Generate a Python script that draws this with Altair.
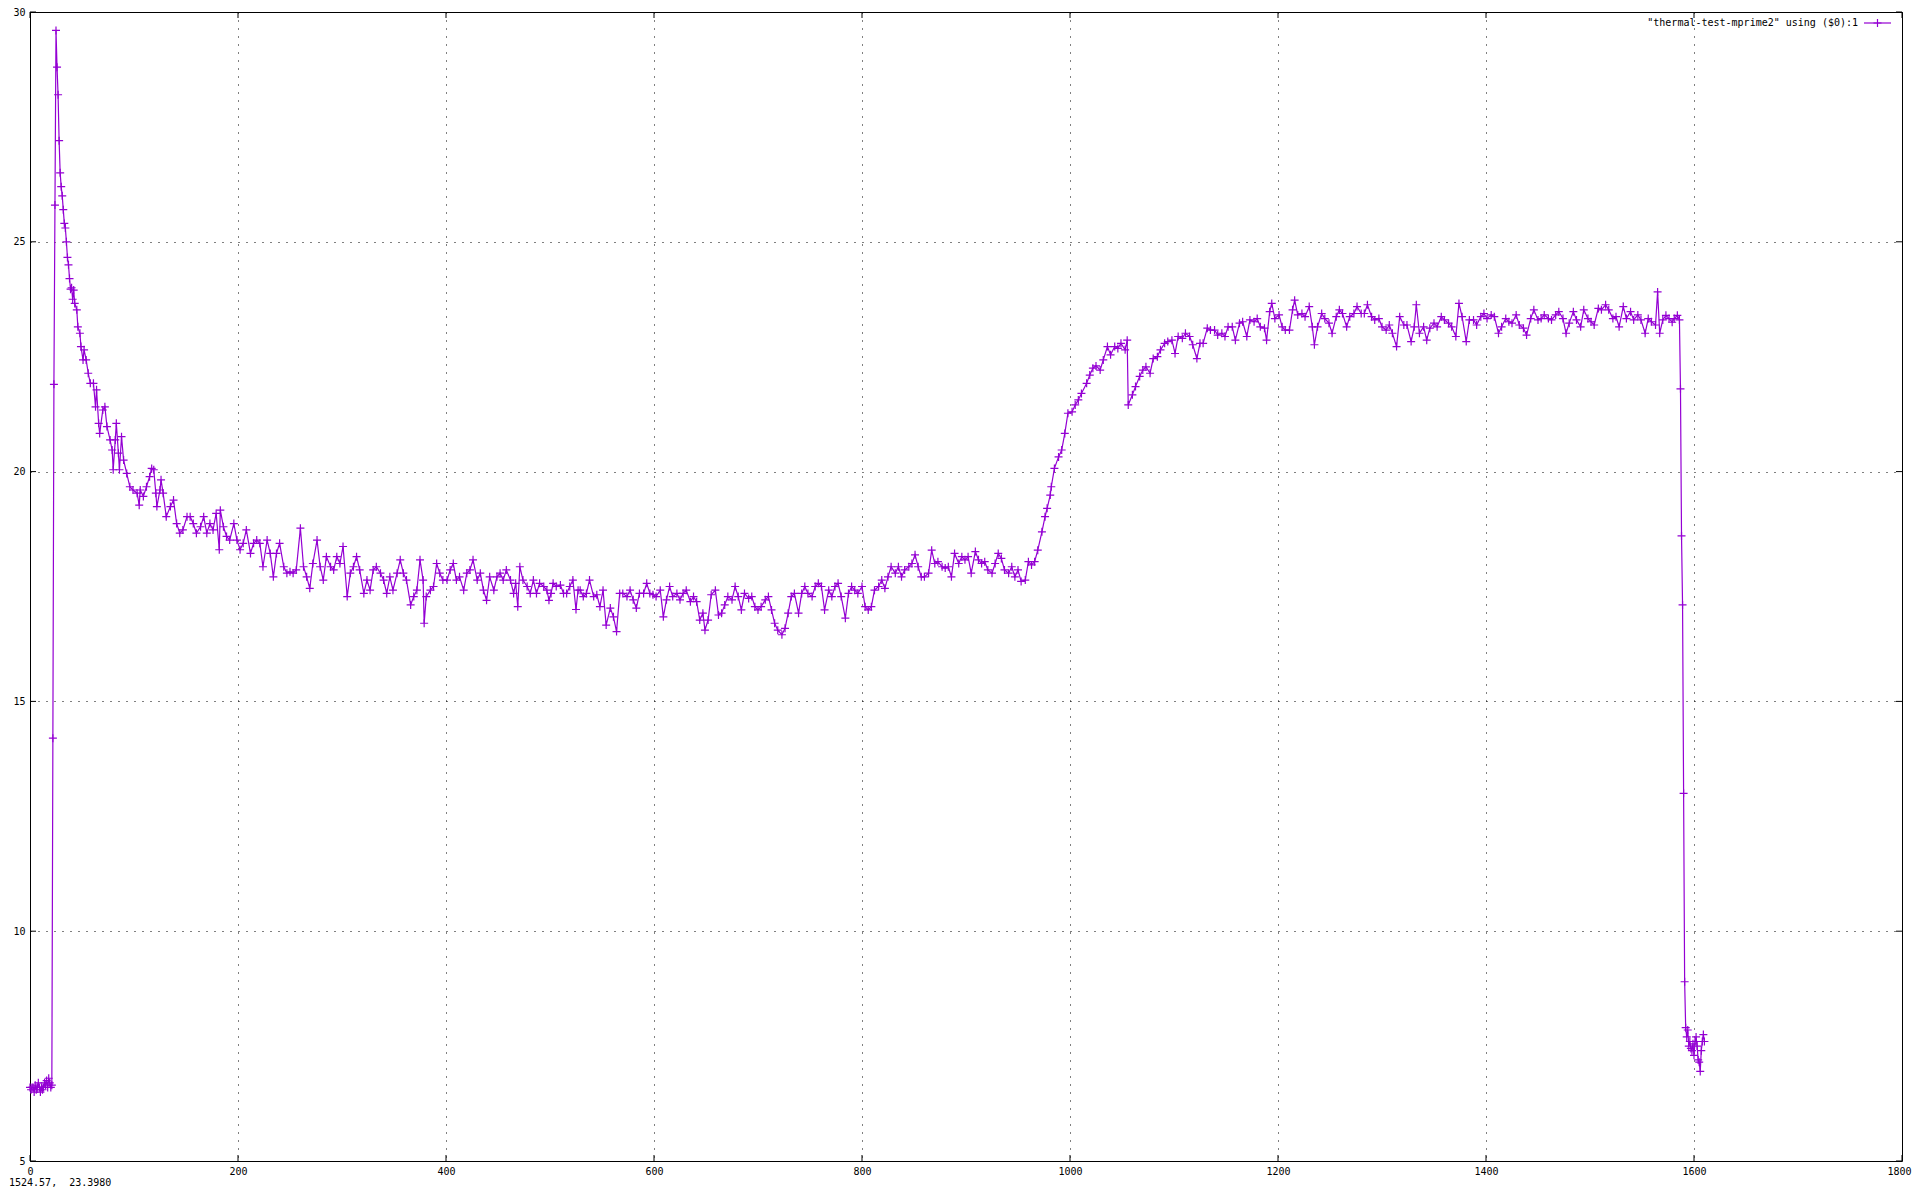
import altair as alt
import pandas as pd

# ---------------- data: (sample index, value) ----------------
warmup = [
    (0, 6.60), (1, 6.55), (2, 6.60), (3, 6.60), (4, 6.50), (5, 6.65), (6, 6.55), (7, 6.60),
    (8, 6.70), (9, 6.60), (10, 6.50), (11, 6.60), (12, 6.55), (13, 6.60), (14, 6.70),
    (15, 6.65), (16, 6.75), (17, 6.60), (18, 6.80), (19, 6.70), (20, 6.60), (21, 6.65),
    (22, 14.2), (23, 21.9), (24, 25.8), (25, 29.6), (26, 28.8), (27, 28.2), (28, 27.2),
    (29, 26.5), (30, 26.2), (31, 26.0), (32, 25.7), (33, 25.4), (34, 25.3), (35, 25.0),
    (36, 24.66), (37, 24.5), (38, 24.2), (39, 23.97), (40, 24.0), (41, 23.75), (42, 23.95),
    (43, 23.66),
]

decay = [
    (45, 23.52), (46, 23.15), (48, 23.01), (49, 22.72), (51, 22.43), (52, 22.65), (54, 22.43),
    (56, 22.14), (58, 21.92), (61, 21.92), (63, 21.41), (64, 21.78), (66, 21.05), (67, 20.83),
    (70, 21.34), (72, 21.41), (74, 20.98), (77, 20.69), (79, 20.47), (80, 20.04), (82, 20.69),
    (83, 21.05), (85, 20.40), (86, 20.04), (88, 20.76), (90, 20.25), (93, 19.96), (96, 19.67),
    (99, 19.60), (103, 19.53), (105, 19.27), (106, 19.60), (109, 19.46), (112, 19.67),
    (115, 19.89), (117, 20.07), (119, 20.04), (121, 19.53), (122, 19.24), (125, 19.60),
    (126, 19.82), (128, 19.53), (131, 19.02), (135, 19.24), (138, 19.38), (141, 18.87),
    (144, 18.66), (147, 18.73), (151, 19.02), (154, 19.02), (157, 18.87), (160, 18.66),
    (164, 18.80), (167, 19.02), (170, 18.66), (173, 18.87), (176, 18.73), (179, 19.09),
    (182, 18.30), (183, 19.16), (186, 18.80), (189, 18.59), (192, 18.51), (196, 18.87),
    (199, 18.51), (202, 18.30), (205, 18.44), (208, 18.73), (212, 18.22), (215, 18.44),
    (218, 18.51), (221, 18.44), (224, 17.93), (228, 18.51), (231, 18.22), (234, 17.71),
    (237, 18.22), (240, 18.44), (244, 17.93), (247, 17.79), (250, 17.82), (253, 17.79),
    (256, 17.86), (260, 18.77), (263, 17.93), (266, 17.71), (269, 17.46), (272, 18.00),
    (276, 18.51), (279, 17.93), (282, 17.64), (285, 18.15), (289, 17.93), (292, 17.86),
    (295, 18.15), (298, 18.00), (301, 18.37), (305, 17.28), (308, 17.79), (311, 17.93),
    (314, 18.15), (317, 17.86), (321, 17.35), (324, 17.64), (327, 17.42), (330, 17.86),
    (333, 17.93), (337, 17.79), (340, 17.64), (343, 17.35), (346, 17.71), (349, 17.42),
    (353, 17.79), (356, 18.08), (359, 17.79), (362, 17.64), (366, 17.10), (369, 17.28),
    (372, 17.42), (375, 18.08), (378, 17.64), (379, 16.70), (381, 17.28), (385, 17.42),
    (388, 17.50), (391, 18.00), (394, 17.79), (397, 17.64), (401, 17.64), (404, 17.86),
    (407, 18.00), (410, 17.64), (413, 17.71), (417, 17.42), (420, 17.79), (423, 17.86),
    (426, 18.08), (430, 17.64), (433, 17.79), (436, 17.42), (439, 17.20), (442, 17.71),
    (446, 17.42), (449, 17.71), (452, 17.79), (455, 17.64), (458, 17.86), (462, 17.64),
    (465, 17.35), (467, 17.57), (469, 17.06), (471, 17.93), (474, 17.64), (478, 17.50),
    (481, 17.35), (484, 17.64), (487, 17.35), (490, 17.57), (494, 17.50), (497, 17.42),
    (499, 17.20), (501, 17.35), (503, 17.57), (506, 17.50), (510, 17.53), (513, 17.35),
    (516, 17.35), (519, 17.50), (522, 17.64), (525, 17.00), (527, 17.42),
]

plateau_low = [
    (529, 17.42), (532, 17.28), (535, 17.35), (538, 17.64), (542, 17.28), (545, 17.32),
    (548, 17.06), (551, 17.42), (554, 16.66), (558, 17.03), (561, 16.84), (564, 16.52),
    (567, 17.35), (570, 17.35), (574, 17.28), (577, 17.42), (580, 17.21), (583, 17.03),
    (586, 17.35), (590, 17.35), (593, 17.57), (596, 17.35), (599, 17.32), (602, 17.28),
    (606, 17.42), (609, 16.84), (612, 17.21), (615, 17.50), (618, 17.28), (622, 17.35),
    (625, 17.21), (628, 17.35), (631, 17.42), (635, 17.17), (638, 17.28), (641, 17.17),
    (644, 16.77), (647, 16.92), (649, 16.55), (652, 16.77), (655, 17.32), (659, 17.42),
    (662, 16.88), (665, 16.92), (668, 17.10), (671, 17.28), (675, 17.21), (678, 17.50),
    (681, 17.28), (684, 16.99), (687, 17.35), (691, 17.24), (694, 17.28), (697, 17.06),
    (700, 16.99), (703, 17.06), (707, 17.21), (710, 17.28), (713, 16.99), (716, 16.70),
    (719, 16.55), (723, 16.45), (726, 16.59), (729, 16.92), (732, 17.28), (735, 17.35),
    (739, 16.92), (742, 17.35), (745, 17.50), (748, 17.35), (752, 17.28), (755, 17.50),
    (758, 17.57), (761, 17.50), (764, 16.99), (768, 17.42), (771, 17.28), (774, 17.50),
    (777, 17.57), (780, 17.28), (784, 16.81), (787, 17.35), (790, 17.50), (793, 17.42),
    (796, 17.35), (800, 17.50), (803, 17.06), (806, 16.99), (809, 17.06), (812, 17.42),
    (816, 17.50), (819, 17.64), (822, 17.46), (825, 17.71), (828, 17.93), (832, 17.79),
    (835, 17.93), (838, 17.71), (841, 17.86), (845, 17.93), (848, 18.00), (851, 18.19),
    (854, 17.93), (857, 17.71), (860, 17.71), (864, 17.79), (867, 18.29), (870, 18.00),
    (873, 18.04), (877, 17.93), (880, 17.90), (883, 17.93), (886, 17.71), (889, 18.22),
    (893, 18.00), (896, 18.15), (899, 18.08), (902, 18.15), (905, 17.79), (909, 18.26),
    (912, 18.08), (915, 18.00), (918, 18.04), (921, 17.86), (925, 17.79), (928, 18.00),
    (931, 18.22), (934, 18.11), (937, 17.86), (941, 17.79), (944, 17.93), (947, 17.71),
    (950, 17.86), (953, 17.61), (957, 17.64), (960, 18.04), (963, 17.97), (966, 18.04),
]

ramp = [
    (969, 18.29), (973, 18.69), (976, 19.02), (978, 19.20), (981, 19.49), (982, 19.67),
    (985, 20.07), (989, 20.32), (992, 20.47), (995, 20.83), (998, 21.27), (1002, 21.30),
    (1005, 21.45), (1008, 21.56), (1011, 21.70), (1016, 21.92), (1019, 22.10), (1022, 22.25),
    (1025, 22.30), (1029, 22.21), (1032, 22.43), (1036, 22.72), (1039, 22.54), (1043, 22.72),
    (1046, 22.68), (1049, 22.79), (1053, 22.65), (1055, 22.86), (1056, 21.45), (1060, 21.67),
    (1063, 21.85), (1067, 22.07), (1070, 22.21), (1073, 22.28), (1077, 22.14), (1080, 22.46),
    (1084, 22.50), (1087, 22.65), (1091, 22.79), (1094, 22.83), (1098, 22.86), (1101, 22.57),
    (1104, 22.94), (1108, 22.90), (1111, 23.01), (1115, 22.94), (1118, 22.76), (1122, 22.46),
    (1125, 22.79), (1128, 22.79), (1132, 23.12), (1135, 23.08), (1139, 23.08), (1142, 22.97),
    (1146, 23.01), (1149, 22.94), (1152, 23.15), (1156, 23.15), (1159, 22.86), (1163, 23.23),
    (1166, 23.26), (1170, 22.94), (1173, 23.30), (1177, 23.26), (1180, 23.33), (1183, 23.15),
    (1187, 23.12), (1189, 22.86),
]

plateau_high = [
    (1192, 23.48), (1194, 23.66), (1197, 23.33), (1201, 23.41), (1204, 23.15), (1207, 23.08),
    (1211, 23.08), (1214, 23.52), (1216, 23.73), (1219, 23.41), (1223, 23.44), (1226, 23.37),
    (1230, 23.59), (1233, 23.15), (1235, 22.76), (1238, 23.15), (1242, 23.44), (1245, 23.33),
    (1249, 23.23), (1252, 23.01), (1256, 23.37), (1259, 23.52), (1262, 23.44), (1266, 23.15),
    (1269, 23.37), (1273, 23.44), (1276, 23.59), (1280, 23.44), (1283, 23.44), (1286, 23.63),
    (1290, 23.37), (1293, 23.30), (1297, 23.33), (1300, 23.15), (1304, 23.08), (1307, 23.19),
    (1310, 23.01), (1314, 22.72), (1317, 23.37), (1321, 23.19), (1324, 23.19), (1328, 22.83),
    (1331, 23.15), (1333, 23.63), (1336, 23.01), (1340, 23.15), (1343, 22.86), (1346, 23.12),
    (1350, 23.23), (1353, 23.15), (1357, 23.37), (1360, 23.30), (1364, 23.23), (1367, 23.15),
    (1371, 22.94), (1374, 23.66), (1377, 23.37), (1381, 22.83), (1384, 23.30), (1388, 23.30),
    (1391, 23.19), (1395, 23.37), (1398, 23.44), (1401, 23.33), (1405, 23.41), (1408, 23.37),
    (1412, 23.01), (1415, 23.15), (1419, 23.33), (1422, 23.26), (1425, 23.23), (1429, 23.41),
    (1432, 23.19), (1436, 23.12), (1439, 22.97), (1443, 23.33), (1446, 23.52), (1450, 23.30),
    (1453, 23.33), (1456, 23.41), (1460, 23.33), (1463, 23.30), (1467, 23.41), (1470, 23.48),
    (1474, 23.33), (1477, 23.01), (1480, 23.23), (1484, 23.48), (1487, 23.30), (1491, 23.15),
    (1494, 23.52), (1498, 23.33), (1501, 23.26), (1504, 23.19), (1508, 23.55), (1511, 23.52),
    (1515, 23.63), (1518, 23.52), (1522, 23.33), (1525, 23.37), (1528, 23.15), (1532, 23.59),
    (1535, 23.33), (1539, 23.48), (1542, 23.30), (1546, 23.41), (1549, 23.30), (1553, 23.01),
    (1556, 23.33), (1559, 23.26), (1563, 23.19), (1565, 23.91), (1567, 23.01), (1570, 23.30),
    (1573, 23.40), (1576, 23.33), (1579, 23.25), (1581, 23.33), (1584, 23.40), (1586, 23.30),
]

cooldown = [
    (1587, 21.80), (1588, 18.60), (1589, 17.10), (1590, 13.00), (1591, 8.90), (1592, 7.90),
    (1593, 7.70), (1594, 7.85), (1595, 7.50), (1596, 7.60), (1597, 7.45), (1598, 7.40),
    (1599, 7.55), (1600, 7.30), (1601, 7.60), (1602, 7.70), (1603, 7.50), (1604, 7.20),
    (1605, 7.15), (1606, 6.95), (1607, 7.40), (1608, 7.60), (1609, 7.75), (1610, 7.60),
]

x_ticks = [0, 200, 400, 600, 800, 1000, 1200, 1400, 1600, 1800]
y_ticks = [5, 10, 15, 20, 25, 30]
legend_label = ['"thermal-test-mprime2" using ($0):1']
coord_label = ["1524.57,\u00a0 23.3980"]

# ---------------- style ----------------
W, H = 1872, 1149
PURPLE = "#9400D3"
FONT = "DejaVu Sans Mono"
FS = 10
TICK = 6
LW = 1.2
CROSS = "M-1,0H1M0,-1V1"

rows = warmup + decay + plateau_low + ramp + plateau_high + cooldown
df = pd.DataFrame(rows, columns=["x", "y"])
xs = alt.Scale(domain=[0, 1800], nice=False, zero=False)
ys = alt.Scale(domain=[5, 30], nice=False, zero=False)

axis_common = dict(
    title=None, grid=True, gridColor="black", gridDash=[1, 7], gridWidth=1,
    gridOpacity=1, ticks=False, tickSize=0, domain=False, labelFont=FONT,
    labelFontSize=FS, labelColor="black", labelPadding=5, labelFlush=False,
    labelOverlap=False, format="d",
)
x_axis = alt.Axis(
    values=x_ticks,
    labelOffset={"condition": {"test": "datum.value >= 1800", "value": -3}, "value": 0},
    **axis_common,
)
y_axis = alt.Axis(values=y_ticks, **axis_common)

base = alt.Chart(df)
line = base.mark_line(color=PURPLE, strokeWidth=LW).encode(
    x=alt.X("x:Q", scale=xs, axis=x_axis),
    y=alt.Y("y:Q", scale=ys, axis=y_axis),
)
points = base.mark_point(
    shape=CROSS, filled=False, size=64, strokeWidth=LW, color=PURPLE, opacity=1
).encode(x=alt.X("x:Q", scale=xs, axis=x_axis), y=alt.Y("y:Q", scale=ys, axis=y_axis))

xt = alt.Chart(pd.DataFrame({"t": x_ticks}))
yt = alt.Chart(pd.DataFrame({"t": y_ticks}))
tick_bottom = xt.mark_rule(color="black", strokeWidth=1).encode(
    x=alt.X("t:Q", scale=xs, axis=x_axis), y=alt.value(H), y2=alt.value(H - TICK))
tick_top = xt.mark_rule(color="black", strokeWidth=1).encode(
    x=alt.X("t:Q", scale=xs, axis=x_axis), y=alt.value(0), y2=alt.value(TICK))
tick_left = yt.mark_rule(color="black", strokeWidth=1).encode(
    y=alt.Y("t:Q", scale=ys, axis=y_axis), x=alt.value(0), x2=alt.value(TICK))
tick_right = yt.mark_rule(color="black", strokeWidth=1).encode(
    y=alt.Y("t:Q", scale=ys, axis=y_axis), x=alt.value(W), x2=alt.value(W - TICK))

leg = alt.Chart(pd.DataFrame({"label": legend_label}))
leg_text = leg.mark_text(
    align="right", baseline="middle", font=FONT, fontSize=FS, color="black"
).encode(x=alt.value(1828), y=alt.value(11), text="label:N")
leg_line = leg.mark_rule(color=PURPLE, strokeWidth=LW).encode(
    x=alt.value(1834), x2=alt.value(1861), y=alt.value(11))
leg_pt = leg.mark_point(
    shape=CROSS, filled=False, size=64, strokeWidth=LW, color=PURPLE, opacity=1
).encode(x=alt.value(1847.5), y=alt.value(11))

coord = alt.Chart(pd.DataFrame({"label": coord_label})).mark_text(
    align="left", baseline="alphabetic", font=FONT, fontSize=FS, color="black"
).encode(x=alt.value(-21), y=alt.value(H + 25), text="label:N")

chart = alt.layer(
    line, points, tick_bottom, tick_top, tick_left, tick_right,
    leg_text, leg_line, leg_pt, coord,
).properties(
    width=W, height=H,
    autosize=alt.AutoSizeParams(type="none"),
    padding={"left": 22, "top": 4, "right": 10, "bottom": 27},
    background="white",
).configure_view(stroke="black", strokeWidth=1)

chart.save("out.html", embed_options={"renderer": "svg", "actions": False})
